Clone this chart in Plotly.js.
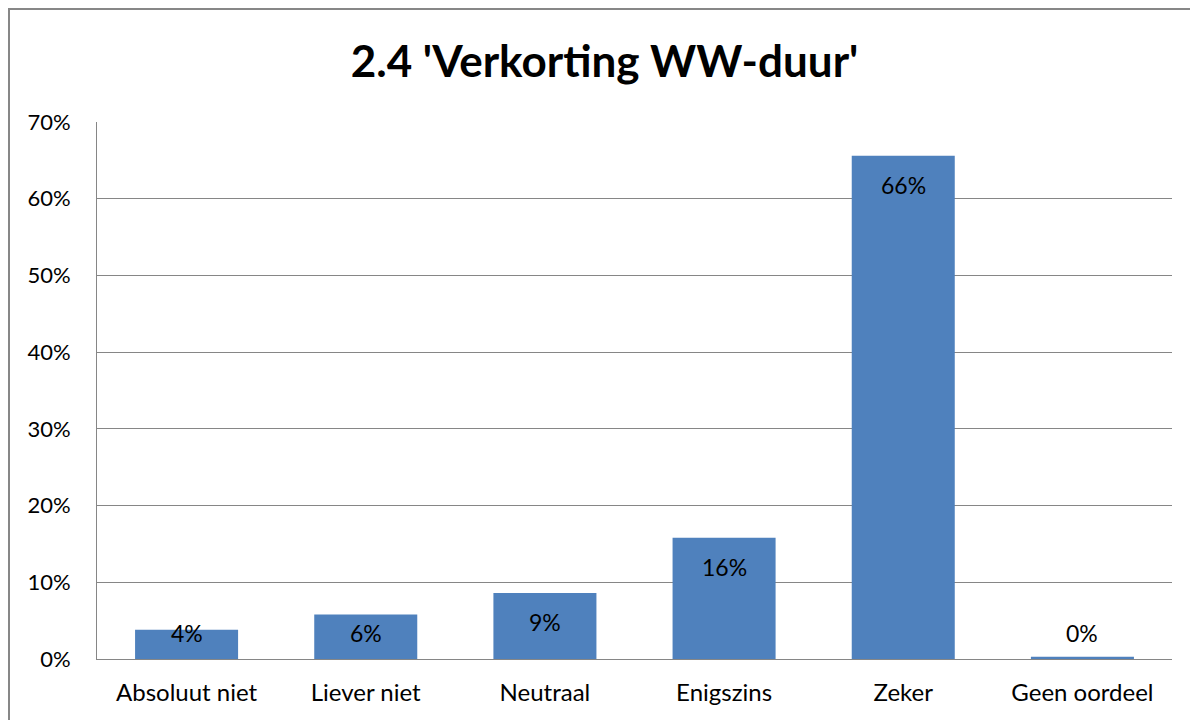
<!DOCTYPE html>
<html><head><meta charset="utf-8">
<script src="https://cdn.plot.ly/plotly-3.0.1.min.js"></script>
<style>
html,body{margin:0;padding:0;background:#fff;overflow:hidden;}
#chart{width:1190px;height:720px;position:absolute;left:0;top:0;}
#frame{position:absolute;left:8px;top:8px;width:1200px;height:730px;border:2px solid #878787;box-sizing:border-box;pointer-events:none;}
</style></head>
<body>
<div id="chart"></div>
<div id="frame"></div>
<script>
const categories = ['Absoluut niet', 'Liever niet', 'Neutraal', 'Enigszins', 'Zeker', 'Geen oordeel'];
const values = [3.8, 5.8, 8.6, 15.8, 65.6, 0.3];
const labels = ['4%', '6%', '9%', '16%', '66%', '0%'];
const yTicks = [0, 10, 20, 30, 40, 50, 60, 70];
const yTickText = ['0%', '10%', '20%', '30%', '40%', '50%', '60%', '70%'];

const font = 'Lato, "Open Sans", sans-serif';
const annotations = categories.map((c, i) => ({
  x: c, y: Math.max(values[i] - 3.78, 3.39), xref: 'x', yref: 'y',
  text: labels[i], showarrow: false, yanchor: 'middle',
  font: {family: font, size: 23, color: '#000'}
}));

Plotly.newPlot('chart', [{
  type: 'bar', x: categories, y: values,
  marker: {color: '#4F81BD'}, width: 0.575, hoverinfo: 'none'
}], {
  width: 1190, height: 720,
  margin: {l: 97, r: 18, t: 122, b: 61},
  paper_bgcolor: '#fff', plot_bgcolor: '#fff',
  title: {text: "<b>2.4 'Verkorting WW-duur'</b>", x: 0.508, xanchor: 'center', y: 0.914, yanchor: 'middle',
          font: {family: font, size: 44, color: '#000'}},
  showlegend: false,
  xaxis: {showline: true, linecolor: '#868686', linewidth: 1, ticks: '', showgrid: false,
          tickfont: {family: font, size: 24, color: '#000'}, ticklabelstandoff: 12},
  yaxis: {range: [0, 70], tickvals: yTicks, ticktext: yTickText, showline: true, linecolor: '#868686',
          linewidth: 1, gridcolor: '#868686', gridwidth: 1, zeroline: false, ticks: '',
          tickfont: {family: font, size: 22, color: '#000'}, ticklabelstandoff: 21},
  annotations: annotations
}, {displayModeBar: false, staticPlot: true});
</script>
</body></html>
